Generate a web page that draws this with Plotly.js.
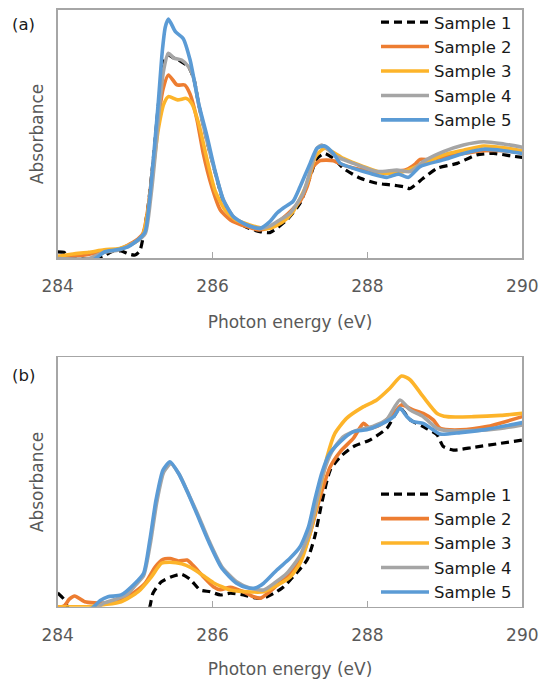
<!DOCTYPE html>
<html>
<head>
<meta charset="utf-8">
<script src="https://cdn.plot.ly/plotly-3.0.1.min.js"></script>
<style>html,body{margin:0;padding:0;background:#fff;}#chart{width:551px;height:679px;}</style>
</head>
<body>
<div id="chart"></div>
<script>
// ---------- Data (normalised absorbance, arbitrary units) ----------
const seriesNames = ["Sample 1", "Sample 2", "Sample 3", "Sample 4", "Sample 5"];
const xTickVals = [284, 286, 288, 290];

// Panel (a)
const a1x = [284.0,284.08,284.15,284.3,284.5,284.62,284.72,284.82,284.92,285.0,285.06,285.1,285.17,285.24,285.3,285.36,285.42,285.5,285.6,285.69,285.76,285.82,285.93,286.03,286.14,286.27,286.44,286.61,286.74,286.96,287.13,287.26,287.35,287.45,287.56,287.69,287.91,288.12,288.29,288.47,288.55,288.72,288.9,289.16,289.41,289.63,289.85,290.0];
const a1y = [2.7,2.5,0.5,0,0,1.5,3,3,1.8,1.4,3,8,21.5,41.6,61.6,77.7,81.7,80.5,79,77,72,62,47,35,23,16,12.5,10.8,10.4,15.5,22.2,32.9,40.2,42.2,40.2,36.2,32.2,30.2,29.6,28.8,28.1,32.2,36.2,38.2,41.6,42.2,41.2,40.6];

const a2x = [284.0,284.3,284.6,284.8,285.0,285.1,285.17,285.24,285.3,285.36,285.43,285.54,285.64,285.71,285.8,285.88,285.99,286.1,286.23,286.44,286.6,286.74,286.9,287.04,287.13,287.22,287.3,287.39,287.56,287.69,287.95,288.21,288.5,288.62,288.68,288.81,288.98,289.24,289.5,289.76,290.0];
const a2y = [0.8,1.2,2.8,3.8,7,10,21,40,56,68,73.7,69.7,69.7,66,55.6,42.2,28.8,19.5,15.5,12.8,11.5,12.5,16,20,23,28.8,36.9,39.3,39.3,37.5,35.5,34.5,35.7,38,39.8,39.6,40.8,42.2,43.3,43.3,42.4];

const a3x = [284.0,284.2,284.4,284.6,284.8,285.0,285.1,285.17,285.24,285.3,285.37,285.43,285.55,285.66,285.73,285.82,285.93,286.03,286.16,286.3,286.48,286.65,286.74,286.9,287.04,287.22,287.33,287.45,287.69,287.95,288.21,288.47,288.72,288.98,289.24,289.5,289.76,290.0];
const a3y = [0.8,1.8,2.5,3.5,4,6.5,9.5,20,38,52,62,65,63.7,64.3,62.3,54.3,39.6,27.5,19.5,15.5,13.5,12.1,12.1,14.5,18.8,30.2,41,44.3,40.2,36.9,34.2,34.9,38.2,41.6,43.5,45.2,44.5,43.3];

const a4x = [284.0,284.4,284.6,284.8,285.0,285.13,285.2,285.27,285.32,285.37,285.43,285.5,285.6,285.69,285.76,285.82,285.93,286.03,286.14,286.27,286.44,286.61,286.74,286.87,287.0,287.17,287.26,287.35,287.41,287.6,287.82,288.12,288.38,288.55,288.72,288.98,289.24,289.5,289.76,290.0];
const a4y = [0,0,2.5,3.5,6.5,10,24,45,63,76,82.4,80.5,79.7,77,72,62,47,35,23.5,16.8,13.5,12,13,15.5,18.2,26.2,35,44.3,45.6,40.9,38.2,34.9,35.5,34.9,38.9,42.9,45.6,46.9,46,44.7];

const a5x = [284.0,284.3,284.46,284.61,284.74,284.91,285.06,285.13,285.19,285.25,285.3,285.35,285.39,285.43,285.52,285.62,285.71,285.82,285.93,286.03,286.14,286.27,286.44,286.61,286.74,286.83,286.91,287.04,287.13,287.26,287.35,287.45,287.56,287.65,287.82,288.03,288.25,288.4,288.53,288.68,288.98,289.24,289.5,289.76,290.0];
const a5y = [-1,-1,-0.5,2.7,3.4,4.7,8.1,10.8,25,45,63,83,93,96.2,91.1,88.4,79.7,62.3,48.9,35.5,23.5,16.8,13.5,12.1,14.8,18.2,20.2,23,28.8,38.2,44.3,45.2,42.2,38.2,36.2,34.2,32.6,33.9,32.6,36.9,39.6,42.2,43.9,43.3,42.2];

// Panel (b)
const b1x = [284.0,284.08,284.16,284.4,284.8,285.1,285.19,285.23,285.34,285.47,285.6,285.71,285.84,285.97,286.1,286.23,286.4,286.57,286.66,286.8,286.92,287.04,287.22,287.32,287.41,287.52,287.65,287.82,288.03,288.25,288.42,288.55,288.72,288.9,288.98,289.11,289.37,289.72,290.0];
const b1y = [5.5,3,-2,-8,-8,-6,0,5.4,10,12,13,11,6.7,6,4.7,5.4,4.7,3.4,3.4,5.5,8,12,18.7,28.1,41.5,54.8,60.1,64.2,66.8,71.5,79.6,75,72.2,68.9,64.2,62.8,63.9,65.5,66.8];

const b2x = [284.0,284.09,284.15,284.22,284.35,284.6,284.82,285.0,285.13,285.26,285.36,285.45,285.56,285.67,285.75,285.88,286.01,286.1,286.23,286.4,286.53,286.62,286.72,286.83,286.96,287.13,287.26,287.39,287.52,287.65,287.82,287.95,288.03,288.16,288.34,288.44,288.59,288.72,288.85,288.94,289.2,289.54,290.0];
const b2y = [-0.5,0.5,3,4.3,2,1.5,2.8,6,9.4,16,19,19.3,18.3,18.7,16.5,12,8,6.8,7.8,6,4,3.4,5.5,8.5,12,18.7,29.4,44.1,56.1,62.2,67.6,73.5,71.5,72.9,77.5,80.9,78.9,77.5,74.9,71.5,70.9,72.2,76.2];

const b3x = [284.0,284.4,284.6,284.82,285.04,285.21,285.34,285.45,285.6,285.73,285.9,286.01,286.12,286.23,286.44,286.66,286.83,287.0,287.13,287.26,287.39,287.48,287.58,287.73,287.95,288.12,288.29,288.44,288.55,288.72,288.9,289.03,289.37,289.72,290.0];
const b3y = [0,0,0.8,2,6,12,17.4,17.8,17.2,15.5,12,9.6,8,6.7,6,6,8.5,11.8,17.4,29.4,46.8,60.1,69.5,75.5,80.2,82.9,87.6,92.5,91,84.2,77.5,76.2,76.2,76.7,77.5];

const b4x = [284.0,284.5,284.6,284.75,284.9,285.0,285.11,285.2,285.28,285.37,285.46,285.57,285.7,285.81,285.96,286.12,286.31,286.48,286.66,286.8,286.96,287.13,287.26,287.35,287.43,287.54,287.69,287.86,288.07,288.25,288.42,288.55,288.72,288.9,289.03,289.37,289.72,290.0];
const b4y = [-1,-0.5,1.5,3,5,8.5,12.5,26,42,54,57.3,53,44.5,37,26,16,10,7.5,6.7,9.5,13.4,20.5,30.8,42.8,53.5,62.2,68.2,70.7,72.3,75.1,82.9,78.9,76.2,71.5,70.6,70.6,71.5,72.9];

const b5x = [284.0,284.44,284.55,284.65,284.82,285.0,285.11,285.19,285.27,285.36,285.45,285.56,285.69,285.8,285.95,286.12,286.31,286.45,286.55,286.66,286.83,287.0,287.13,287.24,287.32,287.41,287.5,287.65,287.82,287.99,288.16,288.34,288.42,288.51,288.59,288.72,288.85,288.94,289.2,289.54,290.0];
const b5y = [-1,-0.6,2.5,4,4.7,9.4,13.4,26.7,42.8,54.8,58.1,53.5,45,37,26,15.4,9.4,7.6,7.5,9.4,14.7,19.4,24,32.1,42.8,53.5,60.8,66.2,70.2,70.9,72.9,76.2,79.6,76.2,74.2,73.5,70.9,69.2,69.8,71.1,73.8];

// ---------- Styling ----------
const colors = ["#000000", "#ED7D31", "#FDB42A", "#A5A5A5", "#5B9BD5"];
const FONT = "'DejaVu Sans', 'Noto Sans', sans-serif";

const panelA = [[a1x,a1y],[a2x,a2y],[a3x,a3y],[a4x,a4y],[a5x,a5y]];
const panelB = [[b1x,b1y],[b2x,b2y],[b3x,b3y],[b4x,b4y],[b5x,b5y]];

function makeTraces(panel, xa, ya, legendId) {
  return panel.map((d, i) => ({
    type: "scatter", mode: "lines",
    x: d[0], y: d[1],
    name: seriesNames[i],
    xaxis: xa, yaxis: ya,
    legend: legendId,
    line: {
      color: colors[i],
      width: i === 0 ? 3.2 : 3.6,
      dash: i === 0 ? "8px,5px" : "solid",
      shape: "spline", smoothing: 0.6
    }
  }));
}

const traces = makeTraces(panelA, "x", "y", "legend").concat(makeTraces(panelB, "x2", "y2", "legend2"));

const titleFont = {family: FONT, size: 17, color: "#595959"};
const xCommon = {
  range: [284, 290], tickvals: xTickVals, ticktext: xTickVals.map(String),
  ticks: "inside", ticklen: 6, tickcolor: "#A6A6A6", tickwidth: 1,
  showline: true, mirror: true, linecolor: "#A6A6A6", linewidth: 1.5,
  showgrid: false, zeroline: false, ticklabelstandoff: 12,
  tickfont: {family: FONT, size: 17, color: "#595959"},
  domain: [0.1047, 0.9479]
};
const yCommon = {
  range: [0, 100], showticklabels: false, ticks: "",
  showline: true, mirror: true, linecolor: "#A6A6A6", linewidth: 1.5,
  showgrid: false, zeroline: false
};
const legCommon = {
  font: {family: FONT, size: 16.5, color: "#1a1a1a"},
  bgcolor: "rgba(0,0,0,0)", borderwidth: 0,
  xanchor: "left", yanchor: "top", itemwidth: 48, tracegroupgap: 0
};

const layout = {
  width: 551, height: 679,
  margin: {l: 0, r: 0, t: 0, b: 0},
  paper_bgcolor: "#ffffff", plot_bgcolor: "#ffffff",
  showlegend: true,
  xaxis: Object.assign({}, xCommon, {anchor: "y",
    title: {text: "Photon energy (eV)", font: titleFont, standoff: 20}}),
  yaxis: Object.assign({}, yCommon, {anchor: "x", domain: [0.6193, 0.986],
    title: {text: "Absorbance", font: titleFont, standoff: 8}}),
  xaxis2: Object.assign({}, xCommon, {anchor: "y2",
    title: {text: "Photon energy (eV)", font: titleFont, standoff: 19}}),
  yaxis2: Object.assign({}, yCommon, {anchor: "x2", domain: [0.1065, 0.4738],
    title: {text: "Absorbance", font: titleFont, standoff: 8}}),
  legend: Object.assign({}, legCommon, {x: 0.6824, y: 0.9928}),
  legend2: Object.assign({}, legCommon, {x: 0.6824, y: 0.2976}),
  annotations: [
    {text: "(a)", xref: "paper", yref: "paper", x: 23/551, y: 1 - 25/679, xanchor: "center", yanchor: "middle",
     showarrow: false, font: {family: FONT, size: 16.5, color: "#1a1a1a"}},
    {text: "(b)", xref: "paper", yref: "paper", x: 23/551, y: 1 - 375/679, xanchor: "center", yanchor: "middle",
     showarrow: false, font: {family: FONT, size: 16.5, color: "#1a1a1a"}}
  ]
};

Plotly.newPlot("chart", traces, layout, {displayModeBar: false, staticPlot: true});
</script>
</body>
</html>
